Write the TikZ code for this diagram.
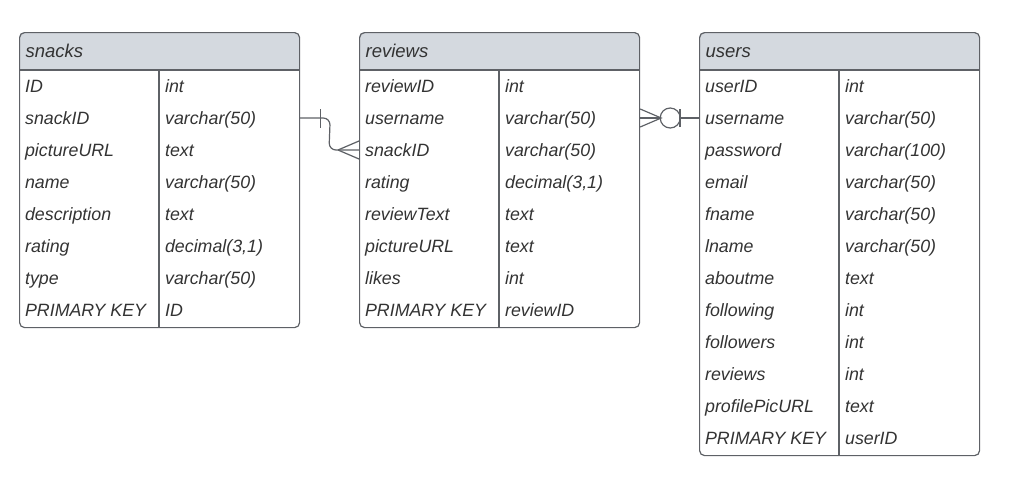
\documentclass[tikz,border=0pt]{standalone}
\usepackage{fontspec}
\setmainfont{Liberation Sans}
\usetikzlibrary{calc}
\definecolor{edgegray}{HTML}{5E6166}
\definecolor{headfill}{HTML}{D4D9DF}
\definecolor{ink}{HTML}{333333}

% #1 name, #2 left x, #3 number of rows, #4 title, #5 rows as key/type
\newcommand{\ertable}[5]{%
  \pgfmathsetmacro\tblbot{71+32*#3}
  \begin{scope}
    \clip[rounded corners=5] (#2,32) rectangle (#2+280,\tblbot);
    \fill[headfill] (#2,32) rectangle (#2+280,70);
  \end{scope}
  \node[tablebox, minimum height={(39+32*#3)*1pt}, name=#1] at (#2,32) {};
  \draw[edgegray] (#2,70) -- (#2+280,70);
  \draw[edgegray] (#2+140,70) -- (#2+140,\tblbot);
  \node[celltext, font=\fontsize{18.5}{21}\selectfont\itshape, name=#1-title]
    at (#2+6,57) {#4};
  \foreach \k/\t [count=\i] in {#5} {
    \coordinate (#1-r\i) at (#2,54+32*\i);
    \node[celltext, name=#1-k\i] at (#2+5.5,60+32*\i) {\k};
    \node[celltext, name=#1-t\i] at (#2+145.5,60+32*\i) {\t};
  }
}

\begin{document}
\begin{tikzpicture}[x=1pt,y=-1pt,line width=1.2pt,
  tablebox/.style={draw=edgegray, rounded corners=5, anchor=north west,
    minimum width=280pt, inner sep=0pt, line width=1.2pt},
  celltext/.style={anchor=base west, inner sep=0pt, text=ink,
    font=\fontsize{17.8}{20}\selectfont\itshape},
  link/.style={draw=edgegray, line width=1.2pt}]
\useasboundingbox (0,0) rectangle (1011,482);

\ertable{snacks}{19}{8}{snacks}{ID/int, snackID/varchar(50), pictureURL/text,
  name/varchar(50), description/text, rating/decimal(3{,}1),
  type/varchar(50), PRIMARY KEY/ID}

\ertable{reviews}{359}{8}{reviews}{reviewID/int, username/varchar(50),
  snackID/varchar(50), rating/decimal(3{,}1), reviewText/text,
  pictureURL/text, likes/int, PRIMARY KEY/reviewID}

\ertable{users}{699}{12}{users}{userID/int, username/varchar(50),
  password/varchar(100), email/varchar(50), fname/varchar(50),
  lname/varchar(50), aboutme/text, following/int, followers/int,
  reviews/int, profilePicURL/text, PRIMARY KEY/userID}

% snacks.snackID (one) -> reviews.snackID (many)
\coordinate (a) at (snacks.east |- snacks-r2);
\coordinate (b) at (reviews.west |- reviews-r3);
\draw[link, rounded corners=7] (a) -- ($(a)+(30,0)$) -- ($(b)+(-30,0)$) -- (b);
\draw[link] ($(a)+(20,-9)$) -- ($(a)+(20,10)$);
\draw[link] ($(b)+(-21,0)$) -- ($(b)+(0,-9)$);
\draw[link] ($(b)+(-21,0)$) -- ($(b)+(0,9)$);

% reviews.username (zero or many) -> users.username
\coordinate (c) at (reviews.east |- reviews-r2);
\coordinate (d) at (users.west |- users-r2);
\draw[link] (c) -- ($(c)+(20,0)$);
\draw[link] ($(c)+(0,-9)$) -- ($(c)+(21,0)$) -- ($(c)+(0,9)$);
\draw[link] ($(c)+(30,0)$) circle[radius=10];
\draw[link] ($(d)+(-19,-9)$) -- ($(d)+(-19,9)$);
\draw[link] ($(d)+(-20,0)$) -- (d);
\end{tikzpicture}
\end{document}
